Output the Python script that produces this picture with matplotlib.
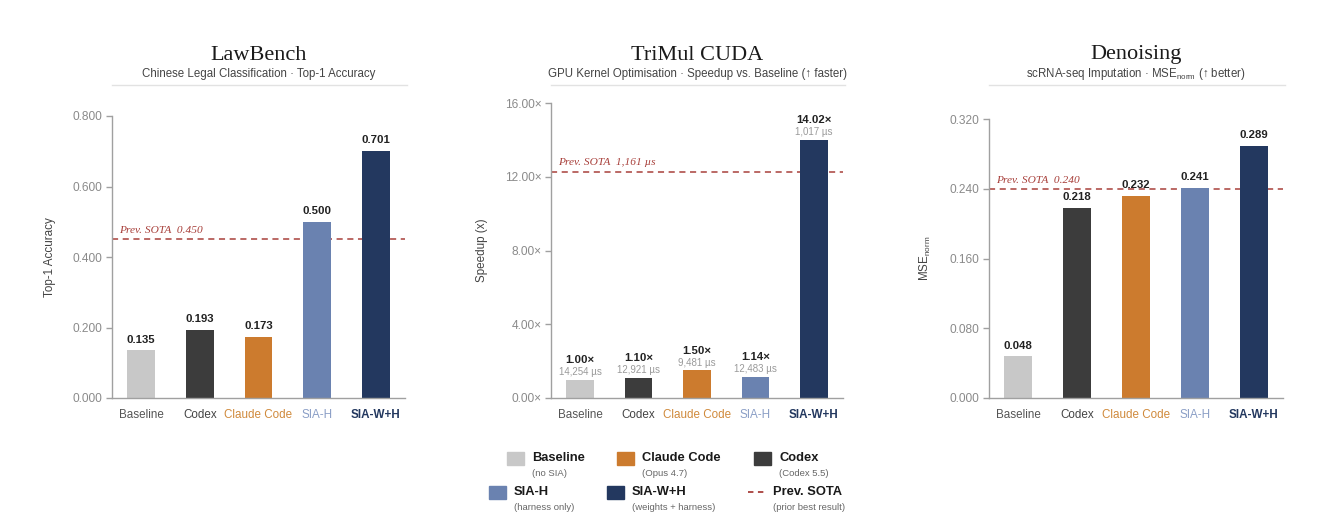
import matplotlib
matplotlib.use("Agg")
import matplotlib.pyplot as plt
from matplotlib.patches import Rectangle
from matplotlib.lines import Line2D

# Dados
models = ["Baseline", "Codex", "Claude Code", "SIA-H", "SIA-W+H"]
law_acc = [0.135, 0.193, 0.173, 0.500, 0.701]
law_sota = 0.450
law_ticks = [0.0, 0.2, 0.4, 0.6, 0.8]

trimul_speedup = [1.00, 1.10, 1.50, 1.14, 14.02]
trimul_us = [14254, 12921, 9481, 12483, 1017]
trimul_base_us = 14254
trimul_sota_us = 1161
trimul_ticks = [0.0, 4.0, 8.0, 12.0, 16.0]

denoise_mse = [0.048, 0.218, 0.232, 0.241, 0.289]
denoise_sota = 0.240
denoise_ticks = [0.0, 0.08, 0.16, 0.24, 0.32]

legend_labels = ["Baseline", "Claude Code", "Codex", "SIA-H", "SIA-W+H", "Prev. SOTA"]
legend_sub = ["(no SIA)", "(Opus 4.7)", "(Codex 5.5)", "(harness only)",
              "(weights + harness)", "(prior best result)"]

# Cores
bar_colors = ["#c8c8c8", "#3c3c3c", "#cc7b2e", "#6a82b0", "#23385f"]
tick_colors = ["#555555", "#444444", "#d08a3c", "#8a9ec6", "#23385f"]
sota_color = "#a8403b"
legend_colors = {"Baseline": "#c8c8c8", "Claude Code": "#cc7b2e", "Codex": "#3c3c3c",
                 "SIA-H": "#6a82b0", "SIA-W+H": "#23385f"}

plt.rcParams["font.family"] = ["Liberation Sans", "DejaVu Sans"]

W, H = 1334, 520
fig = plt.figure(figsize=(W / 100, H / 100), dpi=100)
fig.patch.set_facecolor("white")


def px_rect(left, top, right, bottom):
    return [left / W, 1 - bottom / H, (right - left) / W, (bottom - top) / H]


def style_axes(ax, ticks, fmt, ylabel):
    for s in ["top", "right"]:
        ax.spines[s].set_visible(False)
    ax.spines["left"].set_color("#a0a0a0")
    ax.spines["bottom"].set_color("#a0a0a0")
    ax.spines["left"].set_linewidth(1.0)
    ax.spines["bottom"].set_linewidth(1.0)
    ax.set_yticks(ticks)
    ax.set_yticklabels([fmt(t) for t in ticks])
    ax.set_ylim(ticks[0], ticks[-1])
    ax.set_xlim(-0.5, 4.5)
    ax.tick_params(axis="y", colors="#a0a0a0", labelcolor="#8a8a8a",
                   labelsize=8.6, length=4, width=1.0, pad=3)
    ax.tick_params(axis="x", length=0, pad=8, labelsize=8.4)
    ax.set_xticks(range(len(models)))
    ax.set_xticklabels(models)
    for lab, c in zip(ax.get_xticklabels(), tick_colors):
        lab.set_color(c)
    ax.get_xticklabels()[-1].set_fontweight("bold")
    ax.set_ylabel(ylabel, fontsize=8.4, color="#444444", labelpad=12)


def header(ax, title, subtitle):
    pos = ax.get_position()
    xc = pos.x0 + pos.width / 2
    fig.text(xc, 1 - 55 / H, title, ha="center", va="center",
             fontsize=16, family="Liberation Serif", color="#1a1a1a")
    fig.text(xc, 1 - 74 / H, subtitle, ha="center", va="center",
             fontsize=8.3, color="#444444")
    fig.add_artist(Line2D([pos.x0, pos.x0 + pos.width + 2 / W], [1 - 85 / H] * 2,
                          color="#e2e2e2", lw=1.0, transform=fig.transFigure))


def sota_line(ax, y, text):
    ax.axhline(y, color=sota_color, lw=1.1, ls=(0, (4, 3)), zorder=1)
    ax.annotate(text, xy=(0, y), xycoords=("axes fraction", "data"),
                xytext=(5, 3), textcoords="offset points", ha="left", va="bottom",
                fontsize=8.2, style="italic", family="Liberation Serif",
                color=sota_color)


# Painel 1 - LawBench
ax1 = fig.add_axes(px_rect(112, 116, 405, 398))
ax1.bar(range(len(models)), law_acc, width=0.475, color=bar_colors, zorder=2)
style_axes(ax1, law_ticks, lambda t: f"{t:.3f}", "Top-1 Accuracy")
sota_line(ax1, law_sota, f"Prev. SOTA  {law_sota:.3f}")
for i, v in enumerate(law_acc):
    ax1.annotate(f"{v:.3f}", xy=(i, v), xytext=(0, 4), textcoords="offset points",
                 ha="center", va="bottom", fontsize=8.2, fontweight="bold", color="#222222")
header(ax1, "LawBench", "Chinese Legal Classification · Top-1 Accuracy")

# Painel 2 - TriMul CUDA
ax2 = fig.add_axes(px_rect(551, 103, 843, 398))
ax2.bar(range(len(models)), trimul_speedup, width=0.475, color=bar_colors, zorder=2)
style_axes(ax2, trimul_ticks, lambda t: f"{t:.2f}×", "Speedup (x)")
sota_line(ax2, trimul_base_us / trimul_sota_us, f"Prev. SOTA  {trimul_sota_us:,} µs")
for i, (v, us) in enumerate(zip(trimul_speedup, trimul_us)):
    ax2.annotate(f"{us:,} µs", xy=(i, v), xytext=(0, 2), textcoords="offset points",
                 ha="center", va="bottom", fontsize=7.0, color="#9a9a9a")
    ax2.annotate(f"{v:.2f}×", xy=(i, v), xytext=(0, 10.5), textcoords="offset points",
                 ha="center", va="bottom", fontsize=8.2, fontweight="bold", color="#222222")
header(ax2, "TriMul CUDA", "GPU Kernel Optimisation · Speedup vs. Baseline (↑ faster)")

# Painel 3 - Denoising
ax3 = fig.add_axes(px_rect(989, 119, 1283, 398))
ax3.bar(range(len(models)), denoise_mse, width=0.475, color=bar_colors, zorder=2)
style_axes(ax3, denoise_ticks, lambda t: f"{t:.3f}", r"MSE$_{\mathregular{norm}}$")
sota_line(ax3, denoise_sota, f"Prev. SOTA  {denoise_sota:.3f}")
for i, v in enumerate(denoise_mse):
    ax3.annotate(f"{v:.3f}", xy=(i, v), xytext=(0, 4), textcoords="offset points",
                 ha="center", va="bottom", fontsize=8.2, fontweight="bold", color="#222222")
header(ax3, "Denoising", r"scRNA-seq Imputation · MSE$_{\mathregular{norm}}$ (↑ better)")

# Legenda manual
legend_pos = [(507, 458), (617, 458), (754, 458), (489, 492), (607, 492), (748, 492)]
for lab, sub, (x, y) in zip(legend_labels, legend_sub, legend_pos):
    if lab == "Prev. SOTA":
        fig.add_artist(Line2D([x / W, (x + 18) / W], [1 - y / H] * 2, color=sota_color,
                              lw=1.3, ls=(0, (3, 2.5)), transform=fig.transFigure))
    else:
        fig.add_artist(Rectangle((x / W, 1 - (y + 6.5) / H), 17 / W, 13 / H,
                                 color=legend_colors[lab], transform=fig.transFigure))
    tx = (x + 25) / W
    fig.text(tx, 1 - y / H, lab, ha="left", va="center", fontsize=9.3,
             fontweight="bold", color="#1a1a1a")
    fig.text(tx, 1 - (y + 15) / H, sub, ha="left", va="center", fontsize=6.8,
             color="#666666")

fig.savefig("out.png", dpi=100, facecolor="white")
